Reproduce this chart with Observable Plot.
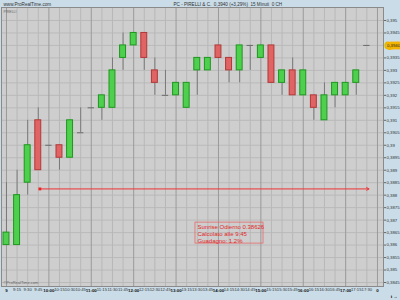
<!DOCTYPE html>
<html><head><meta charset="utf-8">
<script src="https://cdn.jsdelivr.net/npm/d3@7"></script>
<script src="https://cdn.jsdelivr.net/npm/@observablehq/plot@0.6"></script>
<style>html,body{margin:0;padding:0;background:#c9dce8;}</style>
</head><body><div id="chart"></div>
<script>
// x tick labels (one per 15-minute slot)
const times = ["9","9:15","9:30","9:45","10:00","10:15","10:30","10:45","11:00","11:15","11:30","11:45",
  "12:00","12:15","12:30","12:45","13:00","13:15","13:30","13:45","14:00","14:15","14:30","14:45",
  "15:00","15:15","15:30","15:45","16:00","16:15","16:30","16:45","17:00","17:15","17:30","0"];
const hourLabels = ["9","10:00","11:00","12:00","13:00","14:00","15:00","16:00","17:00","0"];
// OHLC per candle
const open  = [0.386,0.386,0.3885,0.391,0.390,0.390,0.3895,0.3905,0.3915,0.3915,0.3915,0.3935,0.394,0.3945,0.393,0.392,0.392,0.3915,0.393,0.393,0.394,0.3935,0.393,0.394,0.3935,0.394,0.3925,0.393,0.392,0.392,0.391,0.392,0.392,0.3925,0.394];
const high  = [0.3885,0.389,0.391,0.3915,0.390,0.390,0.391,0.3915,0.3915,0.392,0.3935,0.3945,0.3945,0.3945,0.3935,0.393,0.3925,0.3925,0.3935,0.3935,0.394,0.3935,0.394,0.394,0.394,0.394,0.393,0.3935,0.393,0.392,0.3925,0.3925,0.3925,0.393,0.394];
const low   = [0.386,0.386,0.388,0.389,0.390,0.389,0.3895,0.3905,0.3915,0.391,0.3915,0.393,0.394,0.393,0.392,0.392,0.392,0.3915,0.392,0.393,0.3935,0.3925,0.3925,0.393,0.3935,0.3925,0.392,0.392,0.392,0.391,0.391,0.3915,0.392,0.392,0.394];
const close = [0.3865,0.388,0.390,0.389,0.390,0.3895,0.391,0.3905,0.3915,0.392,0.393,0.394,0.3945,0.3935,0.3925,0.392,0.3925,0.3925,0.3935,0.3935,0.3935,0.393,0.394,0.394,0.394,0.3925,0.393,0.392,0.393,0.3915,0.392,0.3925,0.3925,0.393,0.394];
// y tick values
const yTicks = [0.3845,0.385,0.3855,0.386,0.3865,0.387,0.3875,0.388,0.3885,0.389,0.3895,0.39,0.3905,0.391,0.3915,0.392,0.3925,0.393,0.3935,0.394,0.3945,0.395];
const lastPrice = 0.394;
const lastPriceLabel = "0,3940";
// annotation
const supportLevel = 0.38825;
const supportFrom = 3.15, supportTo = 34.2;
const boxLines = ["Sunrise Odierno 0.38626","Calcolato alle 9:45","Guadagno: 1.2%"];
const boxX = [17.83, 24.25];
const boxY = [0.38606, 0.38690];
const headerLeft = "www.ProRealTime.com";
const headerRight = "PC - PIRELLI & C.  0,3940 (+3,29%)  15 Minuti  0 CH";
const symbolTag = "PIRELLI";
const copyright = "©ProRealTime.com";

const candles = open.map((o, i) => ({i, o, h: high[i], l: low[i], c: close[i], t: times[i]}));
const bodies = candles.filter(d => d.o !== d.c);
const dojis = candles.filter(d => d.o === d.c);
const allIdx = times.map((t, i) => i);
const hourIdx = allIdx.filter(i => hourLabels.includes(times[i]));
const minorIdx = allIdx.filter(i => !hourLabels.includes(times[i]));
const fmt = v => String(v).replace(".", ",");
const font = "Liberation Sans, Arial, sans-serif";

const chart = Plot.plot({
  width: 400, height: 300,
  marginTop: 7, marginRight: 17, marginBottom: 14, marginLeft: 1,
  style: {background: "#c9dce8", fontFamily: font, color: "#222"},
  x: {domain: [-0.47, 35.57], axis: null},
  y: {domain: [0.38434, 0.39552], axis: null},
  marks: [
    Plot.frame({fill: "#cecece"}),
    Plot.ruleY(yTicks, {stroke: "#bababa"}),
    Plot.ruleX(minorIdx, {stroke: "#b8b8b8"}),
    Plot.ruleX(hourIdx, {stroke: "#9a9a9a"}),
    Plot.frame({stroke: "#8a8a8a"}),
    // wicks
    Plot.ruleX(candles, {x: "i", y1: "l", y2: "h", stroke: "#7a7a7a"}),
    // bodies
    Plot.rect(bodies, {x1: d => d.i - 0.28, x2: d => d.i + 0.28, y1: "o", y2: "c",
      fill: d => d.c > d.o ? "#4ed04e" : "#e06464",
      stroke: d => d.c > d.o ? "#1e961e" : "#b03838", strokeWidth: 1}),
    Plot.ruleY(dojis, {y: "c", x1: d => d.i - 0.3, x2: d => d.i + 0.3, stroke: "#6a6a6a"}),
    // support annotation
    Plot.arrow([0], {x1: supportFrom, x2: supportTo, y1: supportLevel, y2: supportLevel,
      stroke: "#ee3333", strokeWidth: 1, headLength: 4}),
    Plot.dot([0], {x: supportFrom, y: supportLevel, symbol: "square", r: 1.6, fill: "#ee2222"}),
    Plot.rect([0], {x1: boxX[0], x2: boxX[1], y1: boxY[0], y2: boxY[1], fill: "none", stroke: "#e86a6a", strokeWidth: 0.8}),
    Plot.text([boxLines.join("\n")], {x: boxX[0], y: boxY[1], textAnchor: "start", lineAnchor: "top",
      dx: 2, dy: 1.5, fill: "#e02828", fontSize: 6, lineHeight: 1.15}),
    // axes
    Plot.axisY(yTicks.filter(v => v !== lastPrice), {anchor: "right", tickSize: 2, tickPadding: 1,
      tickFormat: fmt, fontSize: 4.3, stroke: "#666", fill: "#333"}),
    Plot.text([lastPriceLabel], {x: 35.57, y: lastPrice, textAnchor: "start", dx: 3.5, fontSize: 4.3,
      fill: "#222", stroke: "#f2b400", strokeWidth: 5, paintOrder: "stroke"}),
    Plot.axisX(minorIdx, {anchor: "bottom", tickSize: 0, tickPadding: 2, tickFormat: i => times[i],
      fontSize: 4.2, fill: "#333"}),
    Plot.axisX(hourIdx, {anchor: "bottom", tickSize: 0, tickPadding: 2, tickFormat: i => times[i],
      fontSize: 4.4, fontWeight: "bold", fill: "#111"}),
    // header/footer texts
    Plot.text([headerLeft], {frameAnchor: "top-left", dx: 2, dy: -4.5, fontSize: 4.6, fill: "#333", textAnchor: "start"}),
    Plot.text([headerRight], {frameAnchor: "top-left", dx: 172, dy: -4.5, fontSize: 4.6, fill: "#333", textAnchor: "start"}),
    Plot.text([symbolTag], {frameAnchor: "top-left", dx: 2, dy: 2.5, fontSize: 3.5, fill: "#666", textAnchor: "start"}),
    Plot.text([copyright], {frameAnchor: "bottom-left", dx: 2, dy: -3, fontSize: 4, fill: "#666", textAnchor: "start"})
  ]
});
document.getElementById("chart").appendChild(chart);
</script>
</body></html>
